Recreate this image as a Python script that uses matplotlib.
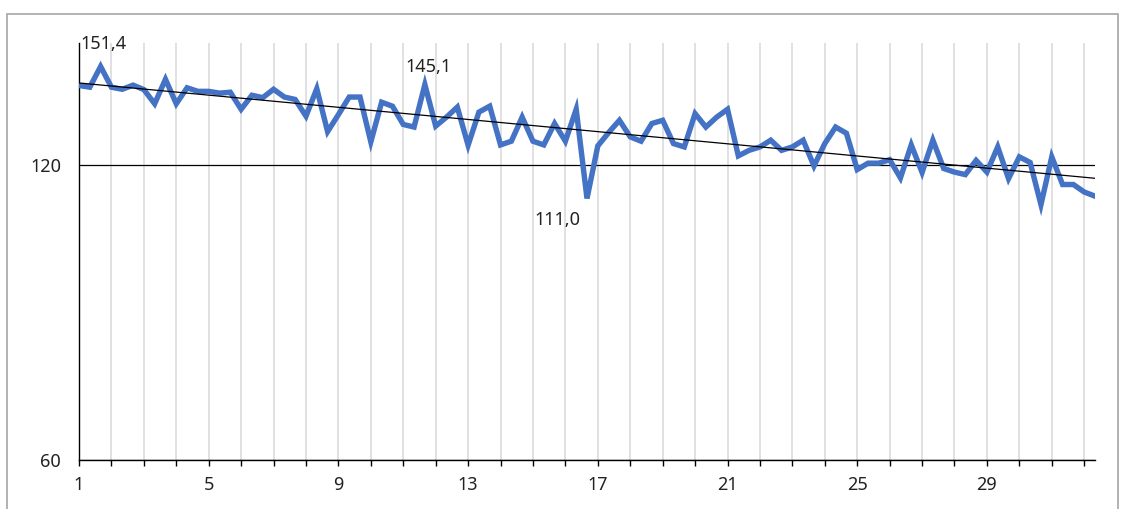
import numpy as np
import matplotlib
matplotlib.use('Agg')
import matplotlib.pyplot as plt
from matplotlib.patches import Rectangle
from matplotlib.ticker import FixedLocator, NullLocator

plt.rcParams['font.family'] = ['Noto Sans', 'DejaVu Sans']

# three readings per category, 95 readings in total
values = [
    144.8, 144.2, 151.4, 144.2, 143.5, 144.9, 143.4, 138.7, 146.9, 138.7,
    144.0, 142.8, 142.8, 142.2, 142.5, 136.9, 141.5, 140.7, 143.5, 140.9,
    140.1, 134.7, 143.7, 129.9, 135.2, 140.9, 140.9, 126.8, 139.2, 137.9,
    132.1, 131.3, 145.1, 131.6, 134.4, 137.6, 125.8, 136.0, 137.9, 125.9,
    127.0, 134.4, 127.0, 125.9, 132.4, 127.0, 136.9, 111.0, 125.6, 129.6,
    133.4, 128.3, 127.0, 132.4, 133.4, 126.3, 125.3, 135.5, 131.3, 134.4,
    136.9, 122.7, 124.3, 125.3, 127.3, 124.3, 125.3, 127.3, 119.8, 126.3,
    131.3, 129.4, 118.8, 120.6, 120.6, 121.6, 116.5, 125.9, 118.0, 127.3,
    119.1, 118.1, 117.4, 121.4, 118.1, 125.3, 116.3, 122.4, 120.8, 109.4,
    122.4, 114.7, 114.7, 112.7, 111.6,
]
per_category = 3
categories = list(range(1, 33))
tick_labels = ['1', '', '', '', '5', '', '', '', '9', '', '', '', '13', '', '', '',
               '17', '', '', '', '21', '', '', '', '25', '', '', '', '29', '', '', '']
y_ticks = [60, 120]
y_labels = ['60', '120']

# labelled readings (index, text)
labelled = [(2, '151,4'), (32, '145,1'), (47, '111,0')]
label_offsets = [(2, 16), (2.5, 13), (-21, -15.5)]

x = 1 + np.arange(len(values)) / per_category
y = np.array(values)

# exponential trend (straight on the log axis)
k, b = np.polyfit(x, np.log(y), 1)
trend = np.exp(k * x + b)

fig = plt.figure(figsize=(11.26, 5.09), dpi=100)
ax = fig.add_axes([79 / 1126, 1 - 460 / 509, (1095 - 79) / 1126, (460 - 43) / 509])

ax.plot(x, y, color='#4472C4', lw=3.9, solid_joinstyle='miter', zorder=3)
ax.plot(x, trend, color='black', lw=0.9, zorder=4)

for (i, txt), (dx, dy) in zip(labelled, label_offsets):
    ax.annotate(txt, (x[i], y[i]), xytext=(dx, dy), textcoords='offset points',
                ha='center', va='center', fontsize=13, color='#222222')

ax.set_yscale('log', base=2)
ax.set_ylim(60, 160)
ax.set_xlim(1, x[-1])
ax.yaxis.set_major_locator(FixedLocator(y_ticks))
ax.yaxis.set_minor_locator(NullLocator())
ax.set_yticklabels(y_labels)
ax.set_xticks(categories)
ax.set_xticklabels(tick_labels)

ax.tick_params(axis='y', length=0, pad=13, labelsize=13, labelcolor='#222222')
ax.tick_params(axis='x', length=4.5, width=1, direction='out', pad=7,
               labelsize=13, labelcolor='#222222')

ax.xaxis.grid(True, color='#d9d9d9', lw=1.1)
ax.yaxis.grid(True, color='black', lw=0.9)
ax.set_axisbelow(True)

for s in ['top', 'right']:
    ax.spines[s].set_visible(False)
for s in ['left', 'bottom']:
    ax.spines[s].set_color('black')
    ax.spines[s].set_linewidth(1)

fig.patches.append(Rectangle((7 / 1126, -0.05), (1118 - 7) / 1126, 1.05 - 14 / 509,
                             transform=fig.transFigure, fill=False,
                             edgecolor='#a6a6a6', lw=1.2))

fig.savefig('out.png', dpi=100)
